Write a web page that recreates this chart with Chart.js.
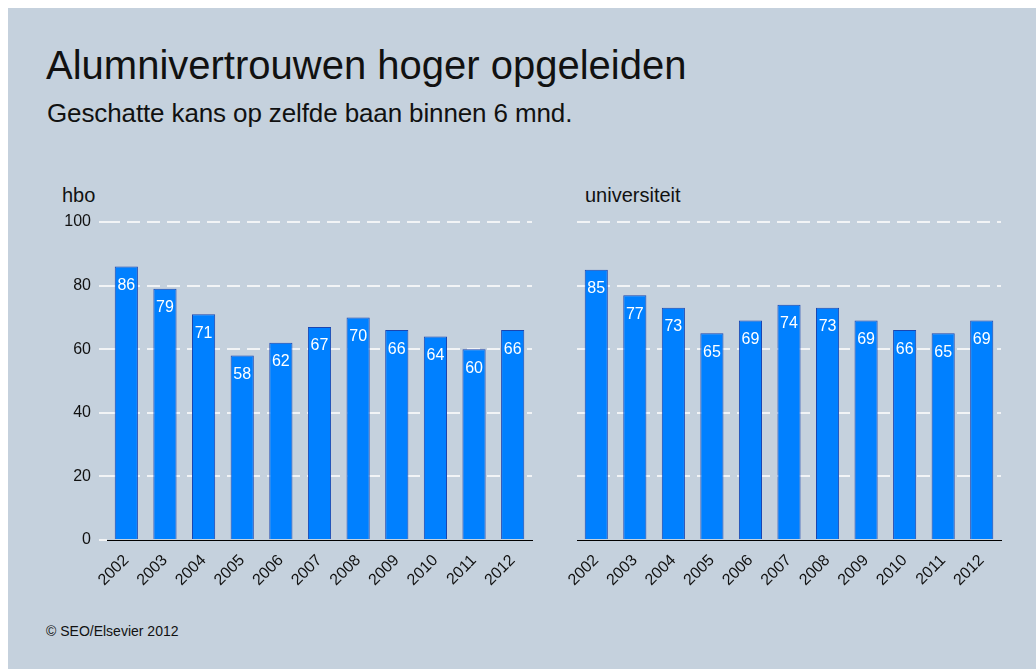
<!DOCTYPE html>
<html>
<head>
<meta charset="utf-8">
<script src="https://cdn.jsdelivr.net/npm/chart.js@4"></script>
<style>
  body { margin: 0; background: #fff; font-family: 'Liberation Sans', Arial, sans-serif; }
  #panel { position: absolute; left: 8px; top: 8px; width: 1028px; height: 661px; background: #c5d1dd; }
  .txt { position: absolute; color: #111; white-space: nowrap; }
  canvas { position: absolute; }
</style>
</head>
<body>
<div id="panel"></div>
<div class="txt" style="left:46px; top:45px; font-size:40px; line-height:40px;">Alumnivertrouwen hoger opgeleiden</div>
<div class="txt" style="left:47px; top:100px; font-size:26px; line-height:26px; letter-spacing:-0.12px;">Geschatte kans op zelfde baan binnen 6 mnd.</div>
<div class="txt" style="left:62px; top:185px; font-size:20px; line-height:20px;">hbo</div>
<div class="txt" style="left:585px; top:185px; font-size:20px; line-height:20px;">universiteit</div>
<div class="txt" style="left:46px; top:624px; font-size:14px; line-height:14px;">© SEO/Elsevier 2012</div>
<canvas id="hbo" width="550" height="400" style="left:0px; top:200px;"></canvas>
<canvas id="uni" width="486" height="400" style="left:550px; top:200px;"></canvas>
<script>
const years = ['2002', '2003', '2004', '2005', '2006', '2007', '2008', '2009', '2010', '2011', '2012']
const hboValues = [86, 79, 71, 58, 62, 67, 70, 66, 64, 60, 66]
const uniValues = [85, 77, 73, 65, 69, 74, 73, 69, 66, 65, 69]
const yTicks = [0, 20, 40, 60, 80, 100]

const font = "'Liberation Sans', Arial, sans-serif"

// white value inside top of each bar
const valueLabels = {
  id: 'valueLabels',
  afterDatasetsDraw(chart) {
    const ctx = chart.ctx
    const meta = chart.getDatasetMeta(0)
    const data = chart.data.datasets[0].data
    ctx.save()
    ctx.fillStyle = '#ffffff'
    ctx.font = '16px ' + font
    ctx.textAlign = 'center'
    ctx.textBaseline = 'middle'
    meta.data.forEach((bar, i) => {
      ctx.fillText(String(data[i]), bar.x, bar.y + 19)
    })
    ctx.restore()
  }
}

const makeChart = (id, values, showY, yWidth, padRight) => {
  return new Chart(document.getElementById(id).getContext('2d'), {
    type: 'bar',
    data: {
      labels: years,
      datasets: [{
        data: values,
        backgroundColor: '#0080ff',
        borderColor: '#1a45b0',
        borderWidth: 1,
        barPercentage: 0.6,
        categoryPercentage: 1
      }]
    },
    options: {
      responsive: false,
      animation: false,
      layout: { padding: { top: 22, right: padRight, left: 0, bottom: 0 } },
      plugins: { legend: { display: false }, tooltip: { enabled: false } },
      scales: {
        x: {
          grid: { display: false },
          border: { display: true, color: '#000000', width: 1 },
          ticks: {
            color: '#111',
            font: { family: font, size: 16 },
            minRotation: 45,
            maxRotation: 45,
            padding: 3
          },
          afterFit: s => { s.height = 60 }
        },
        y: {
          min: 0,
          max: 100,
          afterBuildTicks: s => { s.ticks = yTicks.map(v => ({ value: v })) },
          border: { display: false, dash: [13, 7] },
          grid: {
            color: c => c.tick && c.tick.value === 0 ? 'rgba(0,0,0,0)' : '#f2f4f6',
            lineWidth: 2,
            drawTicks: showY,
            tickLength: 8,
            tickColor: '#f2f4f6',
            tickBorderDash: [13, 7]
          },
          ticks: {
            display: showY,
            color: '#111',
            font: { family: font, size: 16 },
            padding: 8
          },
          afterFit: s => { s.width = yWidth }
        }
      }
    },
    plugins: [valueLabels]
  })
}

makeChart('hbo', hboValues, true, 107, 18)
makeChart('uni', uniValues, false, 27, 35)
</script>
</body>
</html>
